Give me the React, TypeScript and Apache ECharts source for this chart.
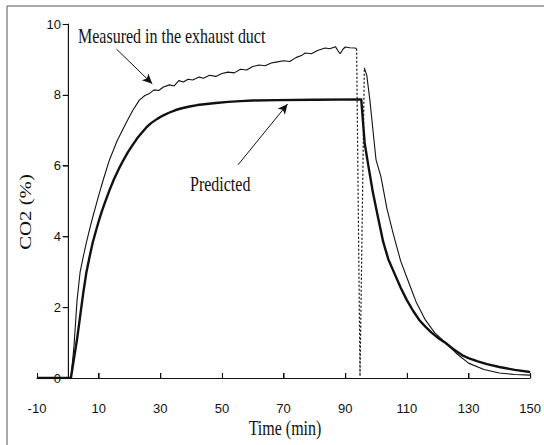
import React, { useEffect, useRef } from "react";
import * as echarts from "echarts";

// Time (min) / CO2 (%) pairs
const measuredRise: [number, number][] = [
  [-10, 0], [1, 0], [2, 0.9], [3, 2.2], [4, 3.0], [5, 3.42], [6, 3.82], [7, 4.18], [8, 4.52],
  [9.2, 4.9], [10, 5.15], [11.5, 5.6], [13.5, 6.16], [16, 6.7], [18.9, 7.2], [21, 7.55],
  [23.2, 7.85], [25, 7.98], [26.5, 8.04], [28, 8.14], [29.5, 8.12], [31, 8.22], [33, 8.28],
  [34.5, 8.25], [36, 8.4], [37.5, 8.36], [39, 8.44], [40.5, 8.42], [42.6, 8.5], [44, 8.47],
  [46, 8.55], [48, 8.52], [50, 8.6], [52, 8.64], [54, 8.62], [56, 8.72], [58, 8.7], [60, 8.8],
  [62, 8.84], [64, 8.82], [66, 8.9], [68, 8.93], [70, 8.96], [72, 8.94], [74, 9.05], [76, 9.12],
  [77, 9.18], [79, 9.16], [81, 9.25], [83.5, 9.32], [85, 9.3], [86.8, 9.36], [87.6, 9.25],
  [88.4, 9.16], [89.2, 9.28], [90, 9.35], [91.5, 9.33], [93.2, 9.32], [93.7, 9.3],
];
const measuredFall: [number, number][] = [
  [96.2, 8.76], [97, 8.55], [98, 7.85], [99, 7.0], [100, 6.16], [101.6, 5.68], [103.5, 4.8],
  [105.5, 4.1], [108, 3.3], [110.3, 2.77], [113, 2.15], [116, 1.64], [119, 1.28], [122.6, 0.99],
  [126, 0.7], [130, 0.42], [135, 0.24], [140, 0.14], [145, 0.1], [150, 0.08],
];
const measuredGap: [number, number][] = [[93.7, 9.3], [94.8, 0.05], [96.2, 8.76]];
const predicted: [number, number][] = [
  [-10, 0], [1, 0], [2, 0.55], [3, 1.1], [4, 1.75], [5, 2.4], [6, 2.97], [7, 3.4], [8, 3.8],
  [9.2, 4.18], [10, 4.42], [11, 4.7], [12, 4.95], [13.5, 5.3], [15, 5.62], [16.5, 5.9],
  [18, 6.15], [19.5, 6.38], [21, 6.58], [22.5, 6.77], [24, 6.93], [25.4, 7.07], [27, 7.2],
  [29, 7.32], [31, 7.42], [33, 7.5], [35, 7.57], [37, 7.62], [39.5, 7.67], [42, 7.71],
  [45, 7.74], [48, 7.77], [52, 7.8], [56, 7.82], [60, 7.84], [68, 7.85], [80, 7.86],
  [95.2, 7.87], [96.3, 6.64], [97.5, 6.0], [99, 5.23], [100.5, 4.6], [102.3, 3.85],
  [104, 3.35], [106.5, 2.85], [108, 2.55], [110, 2.2], [112, 1.9], [114, 1.64], [116, 1.45],
  [118, 1.28], [120, 1.14], [122.6, 0.99], [125, 0.82], [128, 0.64], [130, 0.56],
  [133, 0.47], [136, 0.39], [140, 0.31], [145, 0.23], [150, 0.17],
];
const xTicks = [-10, 10, 30, 50, 70, 90, 110, 130, 150];
const yTicks = [0, 2, 4, 6, 8, 10];
const measuredArrow: [number, number][] = [[15.8, 9.29], [27.4, 8.31]];
const predictedArrow: [number, number][] = [[55.2, 6.02], [71.3, 7.74]];

const SERIF = "'Liberation Serif', 'Times New Roman', serif";
const SANS = "'Liberation Sans', Arial, sans-serif";

export default function App() {
  const ref = useRef<HTMLDivElement>(null);
  useEffect(() => {
    if (!ref.current) return;
    const chart = echarts.init(ref.current, undefined, { renderer: "svg" });
    const arrowLine = (pts: [number, number][]) => ({
      silent: true,
      symbol: ["none", "arrow"],
      symbolSize: [7, 10],
      label: { show: false },
      lineStyle: { color: "#111", width: 1, type: "solid" },
      data: [[{ coord: pts[0] }, { coord: pts[1] }]],
    });
    const textGraphics = [
      { type: "line", shape: { x1: 7, y1: 6, x2: 544, y2: 6 }, style: { stroke: "#555", lineWidth: 1 } },
      { type: "line", shape: { x1: 7, y1: 6, x2: 7, y2: 445 }, style: { stroke: "#555", lineWidth: 1 } },
      {
        type: "text",
        x: 78,
        y: 36,
        scaleY: 1.3,
        style: { text: "Measured in the exhaust duct", font: `16px ${SERIF}`, fill: "#111", textVerticalAlign: "middle" },
      },
      {
        type: "text",
        x: 190,
        y: 184,
        scaleY: 1.3,
        style: { text: "Predicted", font: `16px ${SERIF}`, fill: "#111", textVerticalAlign: "middle" },
      },
      {
        type: "text",
        x: 285,
        y: 428,
        scaleY: 1.3,
        style: { text: "Time (min)", font: `16px ${SERIF}`, fill: "#111", textAlign: "center", textVerticalAlign: "middle" },
      },
      {
        type: "text",
        x: 25,
        y: 212,
        rotation: Math.PI / 2,
        scaleX: 1.3,
        style: { text: "CO2 (%)", font: `16px ${SERIF}`, fill: "#111", textAlign: "center", textVerticalAlign: "middle" },
      },
    ];
    chart.setOption({
      animation: false,
      grid: { left: 37, right: 11, top: 24, bottom: 67, containLabel: false },
      xAxis: {
        type: "value",
        min: -10,
        max: 150,
        splitLine: { show: false },
        axisLine: { show: true, lineStyle: { color: "#111", width: 1 } },
        axisTick: { show: true, inside: true, length: 5, customValues: xTicks, lineStyle: { color: "#111" } },
        axisLabel: {
          customValues: xTicks,
          margin: 24,
          color: "#111",
          fontFamily: SANS,
          fontSize: 13,
        },
      },
      yAxis: {
        type: "value",
        min: 0,
        max: 10,
        interval: 2,
        splitLine: { show: false },
        axisLine: { show: true, onZero: true, lineStyle: { color: "#111", width: 1 } },
        axisTick: { show: true, length: 5, lineStyle: { color: "#111" } },
        axisLabel: { margin: -24, color: "#111", fontFamily: SANS, fontSize: 13 },
      },
      series: [
        {
          type: "line",
          data: predicted,
          showSymbol: false,
          lineStyle: { color: "#111", width: 2.4, join: "round" },
          markLine: arrowLine(predictedArrow),
          z: 3,
        },
        {
          type: "line",
          data: measuredRise,
          showSymbol: false,
          lineStyle: { color: "#111", width: 1.1 },
          markLine: arrowLine(measuredArrow),
          z: 4,
        },
        {
          type: "line",
          data: measuredFall,
          showSymbol: false,
          lineStyle: { color: "#111", width: 1.1 },
          z: 4,
        },
        {
          type: "line",
          data: measuredGap,
          showSymbol: false,
          lineStyle: { color: "#111", width: 1.2, type: [2, 2] },
          z: 2,
        },
      ],
      graphic: textGraphics,
    });
    // y axis line at time 0 and tick marks, placed through the chart's own scales
    const px = (p: [number, number]) => chart.convertToPixel({ gridIndex: 0 }, p) as number[];
    const stroke = { stroke: "#111", lineWidth: 1 };
    const axisLines: any[] = [];
    const a = px([0, 0]);
    const b = px([0, 10]);
    axisLines.push({ type: "line", z: 100, shape: { x1: a[0] + 0.5, y1: a[1], x2: b[0] + 0.5, y2: b[1] }, style: stroke });
    yTicks.forEach((v) => {
      const p = px([0, v]);
      axisLines.push({ type: "line", z: 100, shape: { x1: p[0] - 5, y1: p[1] + 0.5, x2: p[0] + 0.5, y2: p[1] + 0.5 }, style: stroke });
    });
    xTicks.forEach((t) => {
      const p = px([t, 0]);
      axisLines.push({ type: "line", z: 100, shape: { x1: p[0] + 0.5, y1: p[1], x2: p[0] + 0.5, y2: p[1] - 5 }, style: stroke });
    });
    chart.setOption({ graphic: [...textGraphics, ...axisLines] });
    return () => chart.dispose();
  }, []);
  return (
    <div
      ref={ref}
      style={{ position: "fixed", left: 0, top: 0, width: 544, height: 445, background: "#fff" }}
    />
  );
}
